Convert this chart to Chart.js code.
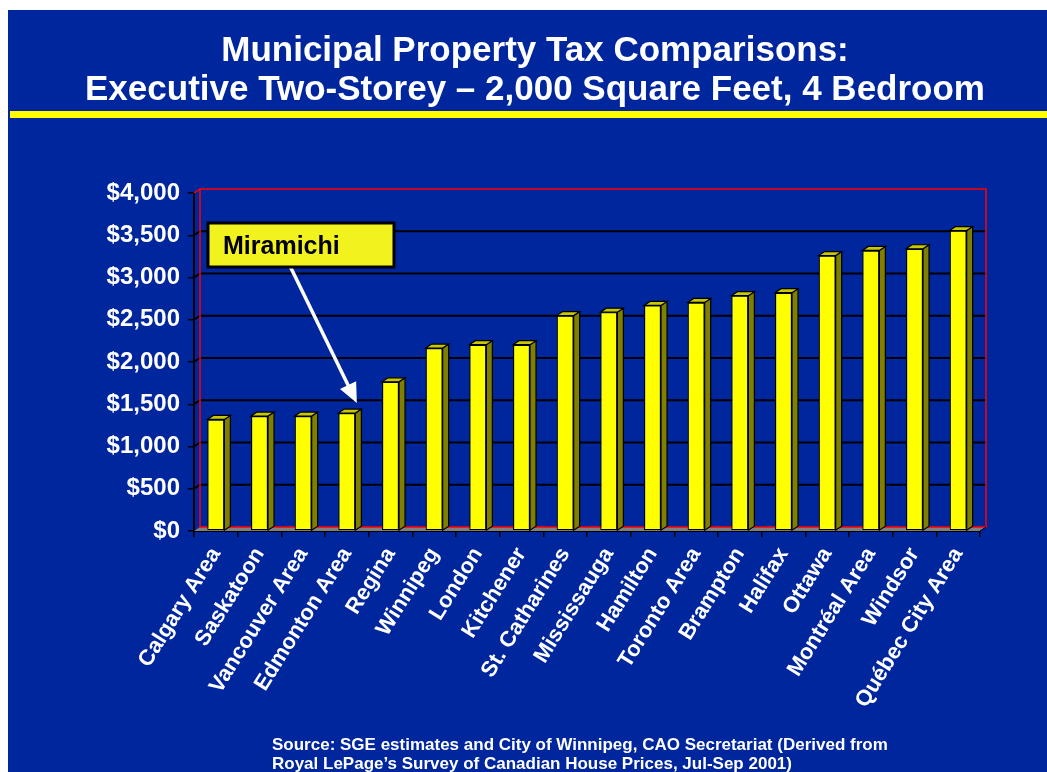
<!DOCTYPE html>
<html>
<head>
<meta charset="utf-8">
<script src="https://cdn.jsdelivr.net/npm/chart.js@4/dist/chart.umd.min.js"></script>
<style>
  body { margin: 0; background: #ffffff; }
  canvas { display: block; }
</style>
</head>
<body>
<canvas id="chart" width="1047" height="772"></canvas>
<script>
// Données du graphique
const categories = ['Calgary Area', 'Saskatoon', 'Vancouver Area', 'Edmonton Area', 'Regina', 'Winnipeg',
  'London', 'Kitchener', 'St. Catharines', 'Mississauga', 'Hamilton', 'Toronto Area', 'Brampton',
  'Halifax', 'Ottawa', 'Montréal Area', 'Windsor', 'Québec City Area'];
const taxValues = [1320, 1360, 1360, 1395, 1765, 2165, 2205, 2205, 2550, 2590, 2670, 2705, 2785, 2820,
  3260, 3320, 3340, 3555];
const yMin = 0;
const yMax = 4000;
const yStep = 500;

const titleLines = ['Municipal Property Tax Comparisons:', 'Executive Two-Storey \u2013 2,000 Square Feet, 4 Bedroom'];
const sourceLines = ['Source: SGE estimates and City of Winnipeg, CAO Secretariat (Derived from',
  'Royal LePage\u2019s Survey of Canadian House Prices, Jul-Sep 2001)'];
const calloutLabel = 'Miramichi';
const calloutIndex = 3;

// Couleurs
const BLUE = '#00269e';
const YELLOW = '#ffff00';
const FONT = '"Liberation Sans", Arial, sans-serif';
const DX = 6, DY = 4; // profondeur 3D

function money(v) {
  return '$' + v.toLocaleString('en-US');
}

// Plugin pour le fond, le titre, les murs 3D et l'annotation
const slide3d = {
  id: 'slide3d',
  beforeDraw(chart) {
    const ctx = chart.ctx;
    ctx.save();
    ctx.fillStyle = BLUE;
    ctx.fillRect(8, 10, chart.width - 8, chart.height - 10);
    ctx.fillStyle = '#ffffff';
    ctx.font = 'bold 35px ' + FONT;
    ctx.textAlign = 'center';
    ctx.textBaseline = 'alphabetic';
    ctx.fillText(titleLines[0], 535, 61);
    ctx.fillText(titleLines[1], 535, 100);
    ctx.fillStyle = YELLOW;
    ctx.fillRect(10, 111, chart.width - 10, 7);
    ctx.restore();
  },
  beforeDatasetsDraw(chart) {
    const ctx = chart.ctx;
    const a = chart.chartArea;
    const y = chart.scales.y;
    ctx.save();
    // sol gris
    ctx.fillStyle = '#808080';
    ctx.beginPath();
    ctx.moveTo(a.left, a.bottom);
    ctx.lineTo(a.left + DX, a.bottom - DY);
    ctx.lineTo(a.right + DX, a.bottom - DY);
    ctx.lineTo(a.right, a.bottom);
    ctx.closePath();
    ctx.fill();
    // quadrillage sur le mur du fond
    ctx.strokeStyle = '#000000';
    ctx.lineWidth = 2;
    for (let v = yMin + yStep; v < yMax; v += yStep) {
      const py = y.getPixelForValue(v);
      ctx.beginPath();
      ctx.moveTo(a.left, py);
      ctx.lineTo(a.left + DX, py - DY);
      ctx.lineTo(a.right + DX, py - DY);
      ctx.stroke();
    }
    // cadre rouge
    ctx.strokeStyle = '#ff0000';
    ctx.lineWidth = 1.5;
    ctx.strokeRect(a.left + DX, a.top - DY, a.right - a.left, a.bottom - a.top);
    ctx.beginPath();
    ctx.moveTo(a.left, a.top);
    ctx.lineTo(a.left + DX, a.top - DY);
    ctx.stroke();
    ctx.strokeStyle = '#000000';
    ctx.lineWidth = 1;
    ctx.beginPath();
    ctx.moveTo(a.right, a.bottom);
    ctx.lineTo(a.right + DX, a.bottom - DY);
    ctx.stroke();
    ctx.restore();
  },
  afterDatasetsDraw(chart) {
    const ctx = chart.ctx;
    const bars = chart.getDatasetMeta(0).data;
    ctx.save();
    ctx.strokeStyle = '#000000';
    ctx.lineWidth = 1.2;
    bars.forEach(bar => {
      const l = bar.x - bar.width / 2;
      const r = bar.x + bar.width / 2;
      // face latérale
      ctx.fillStyle = '#808000';
      ctx.beginPath();
      ctx.moveTo(r, bar.y);
      ctx.lineTo(r + DX, bar.y - DY);
      ctx.lineTo(r + DX, bar.base - DY);
      ctx.lineTo(r, bar.base);
      ctx.closePath();
      ctx.fill();
      ctx.stroke();
      // dessus
      ctx.fillStyle = '#c8c800';
      ctx.beginPath();
      ctx.moveTo(l, bar.y);
      ctx.lineTo(l + DX, bar.y - DY);
      ctx.lineTo(r + DX, bar.y - DY);
      ctx.lineTo(r, bar.y);
      ctx.closePath();
      ctx.fill();
      ctx.stroke();
    });

    // Annotation Miramichi
    const target = bars[calloutIndex];
    const tipX = target.x + 10;
    const tipY = target.y - 10;
    const startX = 290, startY = 266;
    const ang = Math.atan2(tipY - startY, tipX - startX);
    ctx.strokeStyle = '#ffffff';
    ctx.fillStyle = '#ffffff';
    ctx.lineWidth = 3.5;
    ctx.beginPath();
    ctx.moveTo(startX, startY);
    ctx.lineTo(tipX - 16 * Math.cos(ang), tipY - 16 * Math.sin(ang));
    ctx.stroke();
    ctx.beginPath();
    ctx.moveTo(tipX, tipY);
    ctx.lineTo(tipX - 20 * Math.cos(ang) + 9 * Math.sin(ang), tipY - 20 * Math.sin(ang) - 9 * Math.cos(ang));
    ctx.lineTo(tipX - 20 * Math.cos(ang) - 9 * Math.sin(ang), tipY - 20 * Math.sin(ang) + 9 * Math.cos(ang));
    ctx.closePath();
    ctx.fill();

    ctx.fillStyle = '#f2f21e';
    ctx.fillRect(208, 223, 186, 44);
    ctx.strokeStyle = '#000000';
    ctx.lineWidth = 3;
    ctx.strokeRect(208, 223, 186, 44);
    ctx.fillStyle = '#000000';
    ctx.font = 'bold 25px ' + FONT;
    ctx.textAlign = 'left';
    ctx.textBaseline = 'alphabetic';
    ctx.fillText(calloutLabel, 223, 254);

    // Source
    ctx.fillStyle = '#ffffff';
    ctx.font = 'bold 17px ' + FONT;
    ctx.fillText(sourceLines[0], 272, 750);
    ctx.fillText(sourceLines[1], 272, 769);
    ctx.restore();
  }
};

function initChart() {
  const ctx = document.getElementById('chart').getContext('2d');
  new Chart(ctx, {
    type: 'bar',
    data: {
      labels: categories,
      datasets: [{
        data: taxValues,
        backgroundColor: YELLOW,
        borderColor: '#000000',
        borderWidth: 1.2,
        borderSkipped: false,
        categoryPercentage: 1,
        barPercentage: 0.39
      }]
    },
    options: {
      responsive: false,
      animation: false,
      events: [],
      layout: { padding: { top: 193, right: 67, bottom: 0, left: 0 } },
      plugins: {
        legend: { display: false },
        tooltip: { enabled: false }
      },
      scales: {
        x: {
          afterFit(scale) { scale.height = 241; },
          grid: { drawOnChartArea: false, drawTicks: true, tickLength: 6, color: '#000000', lineWidth: 1.5 },
          border: { display: true, color: '#000000', width: 2 },
          ticks: {
            color: '#ffffff',
            font: { family: FONT, size: 22, weight: 'bold' },
            minRotation: 58,
            maxRotation: 58,
            autoSkip: false,
            padding: 6
          }
        },
        y: {
          min: yMin,
          max: yMax,
          afterFit(scale) { scale.width = 194; },
          grid: { drawOnChartArea: false, drawTicks: true, tickLength: 6, color: '#000000', lineWidth: 1.5 },
          border: { display: true, color: '#000000', width: 2 },
          ticks: {
            stepSize: yStep,
            color: '#ffffff',
            font: { family: FONT, size: 24, weight: 'bold' },
            padding: 8,
            callback: v => money(v)
          }
        }
      }
    },
    plugins: [slide3d]
  });
}

window.onload = initChart;
</script>
</body>
</html>
